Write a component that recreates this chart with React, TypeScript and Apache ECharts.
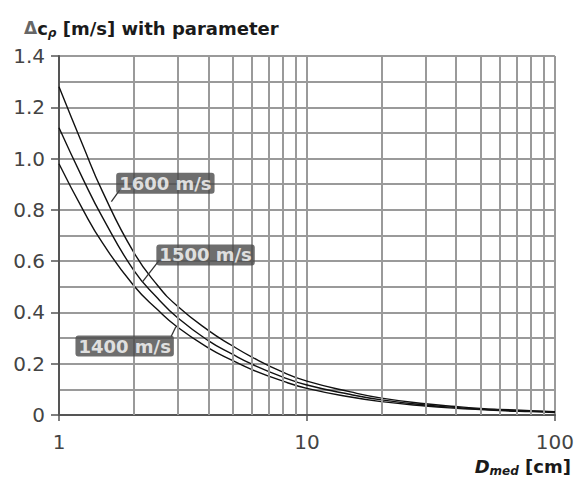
import React, { useEffect, useRef } from "react";
import * as echarts from "echarts";

// D_med [cm]
const xValues = [1, 1.25, 1.5, 2, 2.5, 3, 4, 5, 6, 8, 10, 15, 20, 30, 40, 50, 60, 80, 100];
// Δc_ρ [m/s] for each sound-speed parameter
const v1600 = [1.28, 1.05, 0.87, 0.635, 0.505, 0.425, 0.33, 0.27, 0.226, 0.167, 0.132, 0.09, 0.066, 0.044, 0.033, 0.026, 0.022, 0.017, 0.013];
const v1500 = [1.12, 0.92, 0.77, 0.565, 0.455, 0.38, 0.29, 0.237, 0.198, 0.148, 0.117, 0.08, 0.059, 0.039, 0.029, 0.023, 0.019, 0.015, 0.012];
const v1400 = [0.98, 0.8, 0.67, 0.505, 0.41, 0.343, 0.262, 0.213, 0.177, 0.132, 0.104, 0.07, 0.052, 0.035, 0.026, 0.021, 0.017, 0.013, 0.01];

// tick labels
const xTickLabels = [1, 10, 100];
const yTickLabels = [0, 0.2, 0.4, 0.6, 0.8, 1.0, 1.2, 1.4];
// extra vertical grid lines of the log scale
const xMinorGrid = [2, 3, 4, 5, 6, 7, 8, 9, 20, 30, 40, 50, 60, 70, 80, 90];

// curve annotations and their leader lines
const labelNames = ["1600 m/s", "1500 m/s", "1400 m/s"];
const labelX = [2.685, 3.9, 1.84];
const labelY = [0.904, 0.624, 0.269];
const leaderFromX = [1.756, 2.54, 2.83];
const leaderFromY = [0.877, 0.604, 0.305];
const leaderToX = [1.626, 2.17, 2.96];
const leaderToY = [0.832, 0.519, 0.344];

const FONT = "DejaVu Sans";
const GRID = "#9a9a9a";

export default function App() {
  const ref = useRef<HTMLDivElement>(null);
  useEffect(() => {
    if (!ref.current) return;
    const chart = echarts.init(ref.current, null, { renderer: "svg" });
    const curve = (name: string, vals: number[]) => ({
      name,
      type: "line",
      data: xValues.map((x, i) => [x, vals[i]]),
      showSymbol: false,
      smooth: 0.5,
      lineStyle: { color: "#111", width: 1.4 },
      z: 3,
    });
    chart.setOption({
      animation: false,
      backgroundColor: "#fff",
      title: [
        {
          text: "{d|Δ}{c|c}{p|ρ}{b| [m/s] with parameter}",
          left: 19,
          top: 12,
          textStyle: {
            rich: {
              d: { fontFamily: FONT, fontSize: 17, color: "#666", lineHeight: 22 },
              c: { fontFamily: FONT, fontSize: 18, fontWeight: "bold", color: "#1a1a1a", lineHeight: 22 },
              p: { fontFamily: FONT, fontSize: 12, fontStyle: "italic", color: "#1a1a1a", lineHeight: 12, verticalAlign: "bottom" },
              b: { fontFamily: FONT, fontSize: 18, fontWeight: "bold", color: "#1a1a1a", lineHeight: 22 },
            },
          },
        },
        {
          text: "{D|D}{m|med}{c| [cm]}",
          right: 1,
          top: 450,
          textStyle: {
            rich: {
              D: { fontFamily: FONT, fontSize: 18, fontWeight: "bold", fontStyle: "italic", color: "#1a1a1a", lineHeight: 22 },
              m: { fontFamily: FONT, fontSize: 12, fontStyle: "italic", fontWeight: "bold", color: "#1a1a1a", lineHeight: 12, verticalAlign: "bottom" },
              c: { fontFamily: FONT, fontSize: 18, fontWeight: "bold", color: "#1a1a1a", lineHeight: 22 },
            },
          },
        },
      ],
      grid: { left: 59, right: 19, top: 56, bottom: 66 },
      xAxis: {
        type: "log",
        logBase: 10,
        min: 1,
        max: 100,
        axisLine: { show: true, onZero: false, lineStyle: { color: "#555", width: 2 } },
        axisTick: { show: true, length: 6, lineStyle: { color: "#555", width: 1.5 } },
        axisLabel: {
          fontFamily: FONT,
          fontSize: 20,
          color: "#444",
          margin: 17,
          formatter: (v: number) => (xTickLabels.includes(Math.round(v)) ? String(Math.round(v)) : ""),
        },
        splitLine: { show: true, lineStyle: { color: GRID, width: 2 } },
      },
      yAxis: {
        type: "value",
        min: 0,
        max: 1.4,
        interval: 0.2,
        axisLine: { show: true, lineStyle: { color: "#555", width: 2 } },
        axisTick: { show: true, length: 8, lineStyle: { color: "#555", width: 1.5 } },
        minorTick: { show: false, splitNumber: 2 },
        minorSplitLine: { show: true, lineStyle: { color: GRID, width: 2 } },
        axisLabel: {
          fontFamily: FONT,
          fontSize: 20,
          color: "#444",
          margin: 14,
          formatter: (v: number) => {
            const t = yTickLabels.find((y) => Math.abs(y - v) < 1e-6);
            return t === undefined ? "" : t === 0 ? "0" : t.toFixed(1);
          },
        },
        splitLine: { show: true, lineStyle: { color: GRID, width: 2 } },
      },
      series: [
        {
          type: "line",
          data: [],
          silent: true,
          z: 1,
          markLine: {
            silent: true,
            symbol: "none",
            label: { show: false },
            lineStyle: { color: GRID, width: 2, type: "solid" },
            data: xMinorGrid.map((v) => ({ xAxis: v })),
          },
        },
        curve("1600 m/s", v1600),
        curve("1500 m/s", v1500),
        curve("1400 m/s", v1400),
        {
          type: "scatter",
          symbolSize: 0,
          z: 5,
          data: labelNames.map((n, i) => [labelX[i], labelY[i], n]),
          label: {
            show: true,
            position: "inside",
            formatter: (p: any) => p.data[2],
            fontFamily: FONT,
            fontSize: 18,
            fontWeight: "bold",
            color: "#fff",
            backgroundColor: "#4a4a4a",
            borderRadius: 3,
            padding: [1, 3, 0, 3],
            lineHeight: 20,
          },
          markLine: {
            silent: true,
            symbol: "none",
            label: { show: false },
            lineStyle: { color: "#333", width: 1.3, type: "solid" },
            data: labelNames.map((_, i) => [
              { coord: [leaderFromX[i], leaderFromY[i]] },
              { coord: [leaderToX[i], leaderToY[i]] },
            ]),
          },
        },
      ],
    });
    return () => chart.dispose();
  }, []);
  return <div ref={ref} style={{ width: 577, height: 481, position: "absolute", left: 0, top: 0 }} />;
}
